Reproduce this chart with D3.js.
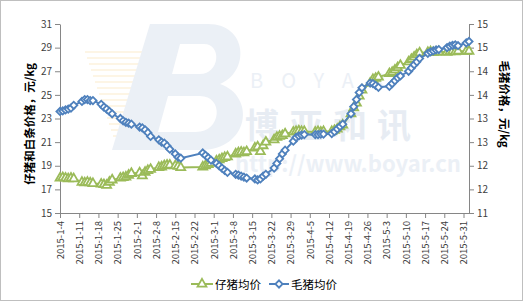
<!DOCTYPE html>
<html>
<head>
<meta charset="utf-8">
<script src="https://cdn.jsdelivr.net/npm/d3@7"></script>
<style>
  body { margin: 0; background: #fff; }
  text { font-family: "Noto Sans CJK SC", "DejaVu Sans", sans-serif; }
</style>
</head>
<body>
<svg width="523" height="301"></svg>
<script>
// trading days (China 2015 working days, holidays removed)
var janDays = [4,5,6,7,8,9,12,13,14,15,16,19,20,21,22,23,26,27,28,29,30];
var febDays = [2,3,4,5,6,9,10,11,12,13,15,16,17,25,26,27,28];
var marDays = [2,3,4,5,6,9,10,11,12,13,16,17,18,19,20,23,24,25,26,27,30,31];
var aprDays = [1,2,3,7,8,9,10,13,14,15,16,17,20,21,22,23,24,27,28,29,30];
var mayDays = [4,5,6,7,8,11,12,13,14,15,18,19,20,21,22,25,26,27,28,29];
var junDays = [1,2];

// 仔猪均价 (left axis)
var pigletPrice = [
  17.95,18.0,17.95,17.9,17.95,17.9,17.6,17.55,17.6,17.55,17.5,17.45,17.4,17.35,17.6,17.8,17.95,18.0,18.05,18.2,18.35,
  18.4,18.15,18.45,18.6,18.7,18.85,18.9,19.0,19.05,19.05,19.0,18.95,18.85,18.9,19.0,19.1,19.2,
  19.4,19.5,19.6,19.7,19.75,20.0,20.1,20.15,20.1,20.2,20.5,20.6,20.2,20.7,21.0,21.2,21.4,21.5,21.55,21.7,21.85,21.9,
  21.95,21.9,21.9,21.85,21.9,21.85,21.9,21.9,22.0,22.1,22.3,22.45,23.4,23.9,24.3,24.9,25.4,26.0,26.3,26.4,26.5,
  26.8,26.9,27.1,27.3,27.5,27.8,28.0,28.2,28.4,28.55,28.6,28.65,28.6,28.6,28.65,28.6,28.65,28.7,28.65,28.7,
  28.7,28.7
];

// 毛猪均价 (right axis)
var hogPrice = [
  13.15,13.16,13.18,13.2,13.22,13.28,13.36,13.4,13.4,13.38,13.38,13.3,13.24,13.2,13.15,13.1,13.0,12.95,12.92,12.9,12.88,
  12.82,12.8,12.76,12.7,12.62,12.55,12.5,12.48,12.42,12.35,12.25,12.18,12.16,12.27,12.22,12.17,12.12,
  12.05,12.0,11.95,11.9,11.86,11.82,11.8,11.78,11.76,11.74,11.72,11.7,11.72,11.78,11.82,11.95,12.05,12.15,12.25,12.33,12.52,12.6,
  12.63,12.65,12.66,12.66,12.66,12.67,12.67,12.68,12.72,12.78,12.83,12.88,13.1,13.25,13.4,13.55,13.65,13.75,13.74,13.7,13.66,
  13.68,13.74,13.8,13.86,13.9,14.0,14.07,14.14,14.2,14.27,14.38,14.41,14.43,14.45,14.46,14.5,14.53,14.55,14.56,14.54,
  14.6,14.63
];

var leftTicks = [15,17,19,21,23,25,27,29,31];
var rightTicks = [11,11.5,12,12.5,13,13.5,14,14.5,15];

var dates = [].concat(
  janDays.map(function(d){ return new Date(2015,0,d); }),
  febDays.map(function(d){ return new Date(2015,1,d); }),
  marDays.map(function(d){ return new Date(2015,2,d); }),
  aprDays.map(function(d){ return new Date(2015,3,d); }),
  mayDays.map(function(d){ return new Date(2015,4,d); }),
  junDays.map(function(d){ return new Date(2015,5,d); })
);

var green = "#9bbb59", blue = "#4f81bd", axisCol = "#868686", txtCol = "#404040";

var svg = d3.select("svg");

// chart border
svg.append("rect").attr("x",0.5).attr("y",0.5).attr("width",522).attr("height",300)
  .attr("fill","none").attr("stroke","#bfbfbf");

var x = d3.scaleTime()
  .domain([new Date(2015,0,4), new Date(2015,5,2)])
  .range([60, 469]);
var yL = d3.scaleLinear().domain([15,31]).range([213,24]);
var yR = d3.scaleLinear().domain([11,15]).range([213,24]);

// watermark (boyar logo, faint)
var wm = svg.append("g").attr("opacity",0.55);
for (var s = 0; s < 16; s++) {
  wm.append("line").attr("x1",85 + s * 2).attr("x2",150).attr("y1",52 + s * 6).attr("y2",52 + s * 6)
    .attr("stroke","#fbe7c2").attr("stroke-width",1.5);
}
wm.append("path")
  .attr("d","M150,24 L208,24 C248,24 250,72 220,84 C256,96 250,150 200,150 L112,150 Z " +
            "M180,44 L204,44 C222,44 220,74 200,74 L172,74 Z " +
            "M168,96 L200,96 C224,96 222,132 196,132 L158,132 Z")
  .attr("fill","#dce4ef").attr("fill-rule","evenodd");
wm.append("text").attr("x",250).attr("y",88).attr("font-size",20).attr("fill","#dce4ef")
  .attr("letter-spacing",18).attr("font-family","DejaVu Sans").text("BOYAR");
wm.append("text").attr("x",245).attr("y",138).attr("font-size",34).attr("font-weight","bold")
  .attr("fill","#d5deeb").attr("letter-spacing",10).text("博亚和讯");
wm.append("text").attr("x",235).attr("y",172).attr("font-size",22).attr("font-weight","bold")
  .attr("fill","#dce4ef").attr("font-family","DejaVu Sans").text("http://www.boyar.cn");

// axes
var weekTicks = d3.timeDay.range(new Date(2015,0,4), new Date(2015,5,1), 7);

var xAxis = svg.append("g").attr("transform","translate(0,213)")
  .call(d3.axisBottom(x).tickValues(weekTicks).tickSize(5).tickSizeOuter(0)
    .tickFormat(function(d){ return "2015-" + (d.getMonth()+1) + "-" + d.getDate(); }));
xAxis.selectAll("text")
  .attr("transform","rotate(-90)")
  .attr("x",-8).attr("y",0).attr("dy","0.35em")
  .style("text-anchor","end");

var leftAxis = svg.append("g").attr("transform","translate(60,0)")
  .call(d3.axisLeft(yL).tickValues(leftTicks).tickSize(5).tickSizeOuter(0));

var rightAxis = svg.append("g").attr("transform","translate(469,0)")
  .call(d3.axisRight(yR).tickValues(rightTicks).tickSize(5).tickSizeOuter(0)
    .tickFormat(function(d){ return Math.round(d); }));

[xAxis, leftAxis, rightAxis].forEach(function(a){
  a.select(".domain").attr("stroke",axisCol);
  a.selectAll(".tick line").attr("stroke",axisCol);
  a.selectAll("text").attr("fill",txtCol).attr("font-size",10).attr("font-family","DejaVu Sans");
});
xAxis.selectAll("text").attr("font-size",9.5);

// axis titles
svg.append("text").attr("transform","translate(34,124) rotate(-90)")
  .attr("text-anchor","middle").attr("font-size",11.5).attr("font-weight","bold").attr("fill","#000")
  .text("仔猪和白条价格，元/kg");
svg.append("text").attr("transform","translate(500,104) rotate(90)")
  .attr("text-anchor","middle").attr("font-size",11.5).attr("font-weight","bold").attr("fill","#000")
  .text("毛猪价格，元/kg");

// series
var greenLine = d3.line().x(function(d,i){ return x(dates[i]); }).y(function(d){ return yL(d); });
var blueLine = d3.line().x(function(d,i){ return x(dates[i]); }).y(function(d){ return yR(d); });

var tri = d3.symbol().type(d3.symbolTriangle).size(34);
var dia = d3.symbol().type(d3.symbolSquare).size(26);

svg.append("path").datum(pigletPrice).attr("d",greenLine)
  .attr("fill","none").attr("stroke",green).attr("stroke-width",2);
svg.selectAll(".tri").data(pigletPrice).enter().append("path")
  .attr("class","tri")
  .attr("d",tri)
  .attr("transform",function(d,i){ return "translate(" + x(dates[i]) + "," + yL(d) + ")"; })
  .attr("fill","#fff").attr("stroke",green).attr("stroke-width",1.8);

svg.append("path").datum(hogPrice).attr("d",blueLine)
  .attr("fill","none").attr("stroke",blue).attr("stroke-width",2);
svg.selectAll(".dia").data(hogPrice).enter().append("path")
  .attr("class","dia")
  .attr("d",dia)
  .attr("transform",function(d,i){ return "translate(" + x(dates[i]) + "," + yR(d) + ") rotate(45)"; })
  .attr("fill","#fff").attr("stroke",blue).attr("stroke-width",1.8);

// legend
var legend = svg.append("g");
legend.append("line").attr("x1",191).attr("x2",213).attr("y1",284).attr("y2",284)
  .attr("stroke",green).attr("stroke-width",2);
legend.append("path").attr("d",tri).attr("transform","translate(202,284)")
  .attr("fill","#fff").attr("stroke",green).attr("stroke-width",1.8);
legend.append("text").attr("x",215).attr("y",288.5).attr("font-size",11.5).attr("fill","#000")
  .text("仔猪均价");
legend.append("line").attr("x1",269).attr("x2",289).attr("y1",284).attr("y2",284)
  .attr("stroke",blue).attr("stroke-width",2);
legend.append("path").attr("d",dia).attr("transform","translate(279,284) rotate(45)")
  .attr("fill","#fff").attr("stroke",blue).attr("stroke-width",1.8);
legend.append("text").attr("x",291).attr("y",288.5).attr("font-size",11.5).attr("fill","#000")
  .text("毛猪均价");
</script>
</body>
</html>
